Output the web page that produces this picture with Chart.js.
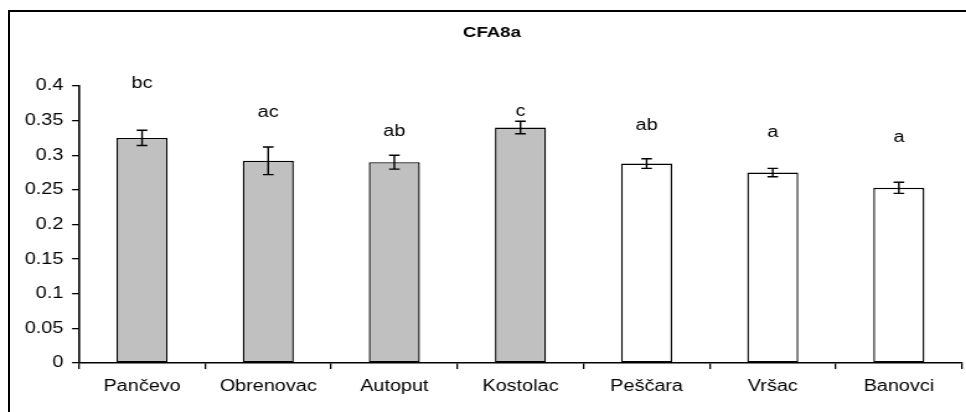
<!DOCTYPE html>
<html>
<head>
<meta charset="utf-8">
<title>CFA8a</title>
<script src="https://cdn.jsdelivr.net/npm/chart.js@4/dist/chart.umd.min.js"></script>
<style>
  html, body { margin: 0; padding: 0; background: #fff; }
  body { width: 966px; height: 412px; overflow: hidden; position: relative; }
  /* outer chart frame, right/bottom edges fall outside the picture */
  #frame { position: absolute; left: 8px; top: 10px; width: 1100px; height: 600px; border: 2px solid #000; }
  /* source picture is stretched horizontally, so the whole chart is too */
  #wrap { position: absolute; left: 0; top: 0; width: 779px; height: 412px; transform: scaleX(1.2401); transform-origin: 0 0; }
</style>
</head>
<body>
<div id="frame"></div>
<div id="wrap"><canvas id="chart" width="779" height="412"></canvas></div>
<script>
  const titleText = "CFA8a";
  const sites = ["Pančevo", "Obrenovac", "Autoput", "Kostolac", "Peščara", "Vršac", "Banovci"];
  const means = [0.325, 0.292, 0.290, 0.340, 0.288, 0.275, 0.253];
  const errors = [0.011, 0.020, 0.010, 0.009, 0.007, 0.006, 0.008];
  const groups = ["bc", "ac", "ab", "c", "ab", "a", "a"];
  const groupLevels = [0.397, 0.355, 0.328, 0.357, 0.336, 0.326, 0.319];
  const barColors = ["#c0c0c0", "#c0c0c0", "#c0c0c0", "#c0c0c0", "#ffffff", "#ffffff", "#ffffff"];
  const yTicks = [0, 0.05, 0.1, 0.15, 0.2, 0.25, 0.3, 0.35, 0.4];

  const FONT = "Arial, 'Liberation Sans', sans-serif";

  // error bars, group letters and the title
  const extrasPlugin = {
    id: "extras",
    afterDatasetsDraw(chart) {
      const { ctx, scales: { x, y } } = chart;
      ctx.save();
      ctx.strokeStyle = "#000";
      ctx.lineWidth = 1.4;
      means.forEach((m, i) => {
        const cx = x.getPixelForValue(i);
        const top = y.getPixelForValue(m + errors[i]);
        const bot = y.getPixelForValue(m - errors[i]);
        ctx.beginPath();
        ctx.moveTo(cx, top); ctx.lineTo(cx, bot);
        ctx.moveTo(cx - 4.3, top); ctx.lineTo(cx + 4.3, top);
        ctx.moveTo(cx - 4.3, bot); ctx.lineTo(cx + 4.3, bot);
        ctx.stroke();
      });
      ctx.fillStyle = "#000";
      ctx.font = "16px " + FONT;
      ctx.textAlign = "center";
      ctx.textBaseline = "alphabetic";
      groups.forEach((g, i) => {
        ctx.fillText(g, x.getPixelForValue(i), y.getPixelForValue(groupLevels[i]));
      });
      ctx.font = "bold 15px " + FONT;
      ctx.textBaseline = "middle";
      ctx.fillText(titleText, 396.7, 32.5);
      ctx.restore();
    }
  };

  new Chart(document.getElementById("chart"), {
    type: "bar",
    data: {
      labels: sites,
      datasets: [{
        data: means,
        backgroundColor: barColors,
        borderColor: "#000",
        borderWidth: 1.4,
        borderSkipped: false,
        barPercentage: 0.405,
        categoryPercentage: 1
      }]
    },
    options: {
      responsive: false,
      animation: false,
      events: [],
      layout: { padding: { top: 86, right: 3.3, left: 0, bottom: 0 } },
      plugins: {
        legend: { display: false },
        tooltip: { enabled: false },
        title: { display: false }
      },
      scales: {
        x: {
          afterFit: (s) => { s.height = 49; },
          grid: { drawOnChartArea: false, offset: true, color: "#000", lineWidth: 1.3, tickLength: 6 },
          border: { color: "#000", width: 1.6 },
          ticks: { color: "#000", font: { family: FONT, size: 16 }, padding: 8, maxRotation: 0 }
        },
        y: {
          min: 0,
          max: 0.4,
          afterFit: (s) => { s.width = 63.7; },
          afterBuildTicks: (s) => { s.ticks = yTicks.map((v) => ({ value: v })); },
          grid: { drawOnChartArea: false, color: "#000", lineWidth: 1.3, tickLength: 5.6 },
          border: { color: "#000", width: 1.6 },
          ticks: {
            color: "#000",
            font: { family: FONT, size: 16 },
            padding: 7,
            callback: (v) => String(Number(v.toFixed(2)))
          }
        }
      }
    },
    plugins: [extrasPlugin]
  });
</script>
</body>
</html>
